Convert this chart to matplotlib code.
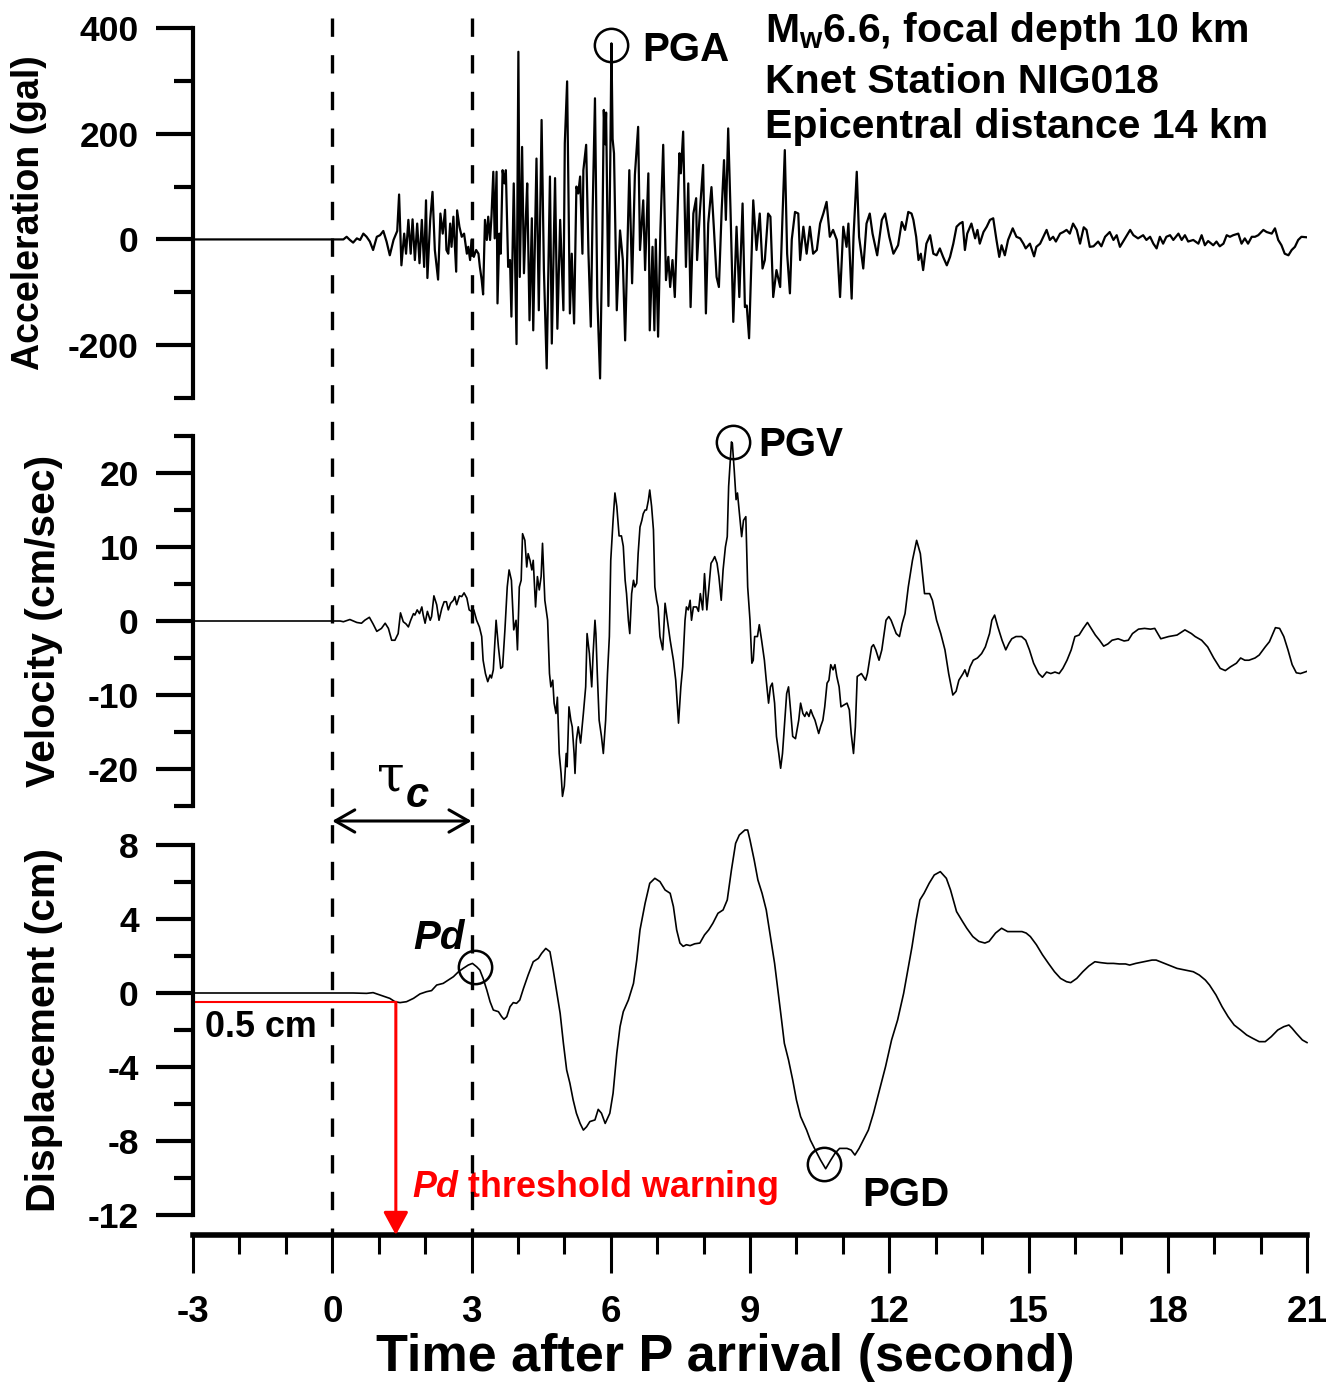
import numpy as np
import matplotlib.pyplot as plt
from matplotlib import transforms
from matplotlib.lines import Line2D
from matplotlib.ticker import MultipleLocator

plt.rcParams['font.family'] = ['Liberation Sans', 'DejaVu Sans']
plt.rcParams['font.weight'] = 'bold'
plt.rcParams['axes.labelweight'] = 'bold'
plt.rcParams['axes.unicode_minus'] = False
plt.rcParams['mathtext.fontset'] = 'custom'
plt.rcParams['mathtext.rm'] = 'Liberation Sans:bold'
plt.rcParams['mathtext.it'] = 'Liberation Sans:bold:italic'
plt.rcParams['mathtext.bf'] = 'Liberation Sans:bold'

# ---------------------------------------------------------------------------
# data (time in s after P arrival)
# ---------------------------------------------------------------------------
acc_time = [-3.0, 0.24, 0.31, 0.38, 0.45, 0.53, 0.60, 0.67, 0.74, 0.81, 0.88, 0.96, 1.03, 1.10, 1.17,
            1.24, 1.32, 1.40, 1.44, 1.49, 1.55, 1.59, 1.64, 1.69, 1.73, 1.78, 1.83, 1.88, 1.93, 1.98,
            2.02, 2.05, 2.11, 2.16, 2.21, 2.28, 2.33, 2.38, 2.43, 2.46, 2.50, 2.54, 2.57, 2.61, 2.67,
            2.69, 2.74, 2.79, 2.84, 2.90, 2.93, 2.97, 3.00, 3.05, 3.10, 3.15, 3.18, 3.22, 3.25, 3.29,
            3.33, 3.36, 3.40, 3.43, 3.47, 3.50, 3.54, 3.56, 3.60, 3.63, 3.67, 3.71, 3.74, 3.79, 3.83,
            3.86, 3.91, 3.97, 4.01, 4.04, 4.09, 4.13, 4.17, 4.20, 4.25, 4.30, 4.33, 4.40, 4.45, 4.51,
            4.56, 4.62, 4.69, 4.73, 4.80, 4.85, 4.91, 4.98, 5.01, 5.06, 5.12, 5.16, 5.21, 5.26, 5.30,
            5.34, 5.39, 5.41, 5.47, 5.52, 5.57, 5.61, 5.66, 5.71, 5.77, 5.82, 5.85, 5.88, 5.90, 5.95,
            5.99, 6.015, 6.04, 6.07, 6.13, 6.20, 6.26, 6.31, 6.40, 6.46, 6.52, 6.59, 6.63, 6.70, 6.74,
            6.81, 6.84, 6.90, 6.94, 6.97, 7.02, 7.07, 7.13, 7.19, 7.24, 7.28, 7.33, 7.38, 7.48, 7.51,
            7.56, 7.62, 7.67, 7.72, 7.78, 7.84, 7.86, 7.92, 7.99, 8.05, 8.10, 8.17, 8.22, 8.28, 8.33,
            8.39, 8.44, 8.48, 8.53, 8.58, 8.64, 8.71, 8.77, 8.84, 8.89, 8.93, 8.98, 9.07, 9.14, 9.21,
            9.27, 9.32, 9.39, 9.44, 9.50, 9.57, 9.65, 9.70, 9.75, 9.80, 9.86, 9.90, 9.97, 10.04, 10.08,
            10.15, 10.22, 10.29, 10.36, 10.44, 10.51, 10.58, 10.65, 10.72, 10.79, 10.87, 10.94, 11.01,
            11.08, 11.12, 11.19, 11.23, 11.30, 11.35, 11.44, 11.51, 11.58, 11.64, 11.74, 11.84, 11.91,
            12.00, 12.09, 12.19, 12.27, 12.34, 12.41, 12.48, 12.52, 12.58, 12.63, 12.68, 12.73, 12.80,
            12.88, 12.95, 13.02, 13.09, 13.16, 13.24, 13.31, 13.38, 13.45, 13.52, 13.58, 13.63, 13.68,
            13.77, 13.85, 13.90, 13.95, 14.03, 14.10, 14.17, 14.24, 14.31, 14.37, 14.42, 14.49, 14.56,
            14.66, 14.74, 14.82, 14.89, 14.94, 15.03, 15.12, 15.17, 15.25, 15.32, 15.39, 15.46, 15.53,
            15.59, 15.68, 15.75, 15.82, 15.89, 15.96, 16.04, 16.11, 16.19, 16.25, 16.32, 16.40, 16.50,
            16.57, 16.65, 16.75, 16.83, 16.90, 16.97, 17.08, 17.19, 17.26, 17.36, 17.47, 17.54, 17.62,
            17.69, 17.76, 17.83, 17.90, 17.97, 18.05, 18.12, 18.23, 18.30, 18.37, 18.44, 18.55, 18.66,
            18.73, 18.80, 18.87, 18.98, 19.05, 19.12, 19.20, 19.27, 19.34, 19.41, 19.52, 19.59, 19.66,
            19.73, 19.81, 19.88, 19.95, 20.06, 20.13, 20.24, 20.31, 20.38, 20.45, 20.52, 20.60, 20.67,
            20.74, 20.81, 20.88, 21.0]
acc_gal = [0, 0, 5, -1, -6, 2, -1, 11, 5, -4, -20, 5, 8, 16, -4,
           -30, -1, 16, 85, -49, 11, -27, 37, -27, 38, -39, 30, -45, 37, -52,
           74, -73, 37, 90, -20, -76, 49, 11, 56, -20, -27, 30, -14, 43, -61,
           55, 24, 5, 11, -27, -14, -39, -1, -33, -20, -27, -52, -77, -104, 37,
           -1, 43, -1, 43, 128, 2, 128, -121, 11, -27, 131, 106, 131, -52, -39,
           -146, 106, -198, 355, -71, 175, -64, 37, 106, -153, 40, -172, 153, -134, 226,
           -58, -244, 119, -197, 116, -169, 37, -134, 182, 299, -140, -27, -159, 100, 87,
           119, -27, 131, 179, -27, -165, 56, 267, -109, -263, 11, 245, 180, 240, -126,
           150, 371, 190, 163, -134, 17, -39, -191, 131, -83, 122, 213, -20, 74, -58,
           125, -172, -14, -172, 0, -184, 18, 179, -77, -33, -90, -39, -109, 163, 125,
           204, -52, 106, -128, 49, 78, -39, 52, 141, -140, 30, 99, 24, -71, -90,
           56, 150, 37, 210, 56, -156, 24, -109, 68, -128, -125, -187, 74, -20, 49,
           -55, -39, 49, 43, -109, -58, -90, 43, 169, -27, -102, 0, 52, 49, -39,
           24, -27, 24, -27, -20, 30, 49, 71, 5, 18, -1, -109, 24,
           -14, 30, -112, 5, 128, 5, -55, 30, 49, 11, -30, 37, 49,
           5, -27, -11, 33, 18, 52, 49, 37, 5, -39, -27, -58, -8,
           8, -27, -30, -17, -33, -49, -33, -8, 24, 30, 33, -20, 11,
           30, 2, 18, -8, 14, 24, 37, 40, -1, -33, -11, -30, -1,
           21, 5, 2, -8, -17, -8, -32, -14, -8, 5, 18, -1, 5,
           -4, 11, 14, 18, 11, 30, 18, -8, 23, 18, -14, -13, -4,
           -13, 5, 14, -1, 8, -14, 2, 18, 8, 2, 8, -1, 5,
           -8, -17, 5, -8, 5, 8, -1, 11, -1, 8, -4, -1, -8,
           8, -11, -3, -11, -4, -13, -8, 8, 5, 8, 11, -8, 2,
           -8, 5, 5, 8, 18, 14, 11, 21, -1, -11, -27, -30, -20,
           -14, -1, 5, 4]

vel_time = [-3.0, 0.17, 0.24, 0.38, 0.53, 0.63, 0.70, 0.80, 0.88, 0.96, 1.06, 1.14, 1.21, 1.28, 1.35,
            1.42, 1.47, 1.53, 1.59, 1.64, 1.69, 1.75, 1.78, 1.83, 1.88, 1.93, 1.96, 2.00, 2.05, 2.11,
            2.14, 2.19, 2.25, 2.30, 2.36, 2.41, 2.46, 2.50, 2.55, 2.61, 2.64, 2.68, 2.74, 2.79, 2.84,
            2.90, 2.95, 3.00, 3.05, 3.11, 3.17, 3.22, 3.25, 3.30, 3.35, 3.40, 3.43, 3.47, 3.53, 3.58,
            3.63, 3.67, 3.72, 3.77, 3.81, 3.86, 3.91, 3.96, 3.99, 4.03, 4.07, 4.10, 4.15, 4.19, 4.22,
            4.26, 4.30, 4.33, 4.38, 4.42, 4.46, 4.50, 4.53, 4.58, 4.64, 4.68, 4.71, 4.75, 4.78, 4.82,
            4.85, 4.89, 4.93, 4.96, 5.00, 5.04, 5.06, 5.10, 5.14, 5.17, 5.21, 5.23, 5.26, 5.30, 5.35,
            5.41, 5.46, 5.49, 5.54, 5.59, 5.62, 5.66, 5.68, 5.71, 5.75, 5.80, 5.84, 5.89, 5.93, 5.97,
            6.00, 6.05, 6.09, 6.13, 6.18, 6.23, 6.27, 6.31, 6.34, 6.38, 6.41, 6.45, 6.49, 6.52, 6.56,
            6.59, 6.63, 6.67, 6.70, 6.74, 6.77, 6.81, 6.84, 6.88, 6.92, 6.95, 6.99, 7.02, 7.06, 7.12,
            7.17, 7.22, 7.28, 7.35, 7.40, 7.46, 7.51, 7.55, 7.60, 7.63, 7.67, 7.71, 7.74, 7.78, 7.85,
            7.89, 7.93, 7.98, 8.02, 8.07, 8.11, 8.16, 8.20, 8.24, 8.29, 8.33, 8.38, 8.42, 8.47, 8.51,
            8.54, 8.60, 8.62, 8.66, 8.70, 8.73, 8.78, 8.82, 8.86, 8.91, 8.95, 9.00, 9.04, 9.07, 9.10,
            9.16, 9.20, 9.25, 9.31, 9.35, 9.40, 9.44, 9.48, 9.53, 9.57, 9.62, 9.66, 9.70, 9.75, 9.79,
            9.83, 9.88, 9.92, 9.98, 10.05, 10.09, 10.14, 10.18, 10.22, 10.27, 10.31, 10.35, 10.40, 10.44,
            10.48, 10.52, 10.57, 10.61, 10.66, 10.70, 10.74, 10.79, 10.83, 10.87, 10.92, 10.96, 11.01,
            11.09, 11.14, 11.18, 11.23, 11.27, 11.31, 11.40, 11.49, 11.53, 11.62, 11.66, 11.71, 11.78,
            11.84, 11.93, 11.99, 12.04, 12.15, 12.22, 12.28, 12.34, 12.41, 12.50, 12.59, 12.67, 12.76,
            12.87, 12.93, 13.02, 13.11, 13.20, 13.28, 13.37, 13.44, 13.50, 13.59, 13.63, 13.68, 13.74,
            13.81, 13.90, 13.99, 14.07, 14.16, 14.21, 14.27, 14.34, 14.43, 14.51, 14.58, 14.64, 14.73,
            14.85, 14.94, 15.02, 15.11, 15.22, 15.30, 15.39, 15.48, 15.57, 15.66, 15.74, 15.83, 15.92,
            16.00, 16.09, 16.18, 16.27, 16.35, 16.44, 16.53, 16.62, 16.71, 16.80, 16.93, 17.06, 17.15,
            17.24, 17.37, 17.50, 17.63, 17.72, 17.85, 18.02, 18.20, 18.37, 18.51, 18.59, 18.73, 18.86,
            18.99, 19.13, 19.24, 19.35, 19.48, 19.57, 19.66, 19.75, 19.88, 19.97, 20.10, 20.19, 20.32,
            20.41, 20.50, 20.59, 20.68, 20.77, 20.86, 20.95, 21.0]
vel_cms = [0, 0, -0.1, 0.2, -0.2, -0.3, 0.1, 0.5, -0.4, -1.4, -1.0, -0.3, -1.0, -2.6, -2.6,
           -1.7, 1.1, -0.1, -0.4, -0.8, 0.1, 1.0, 0.8, 1.5, 1.0, 1.9, 0.8, -0.3, 1.3, 0.1,
           0.6, 3.4, 2.2, 0.1, 1.7, 2.6, 2.6, 1.5, 2.4, 2.8, 3.3, 2.2, 3.4, 3.3, 3.8,
           3.1, 1.5, 1.3, 1.5, 0.1, -0.8, -2.1, -5.3, -7.1, -8.2, -7.3, -7.7, -6.6, 0.1, -3.5,
           -6.4, -6.2, -1.2, 4.6, 6.9, 5.5, -1.2, 0.1, -3.9, 4.6, 5.5, 11.8, 10.9, 7.3, 9.1,
           8.2, 6.9, 8.2, 1.9, 6.0, 4.2, 6.0, 10.5, 2.8, 0.1, -7.1, -8.9, -8.0, -11.1, -12.5,
           -10.3, -17.9, -20.6, -23.7, -22.3, -17.9, -19.7, -11.6, -13.4, -14.3, -17.9, -20.6, -16.1, -14.3, -16.5,
           -12.5, -8.9, -1.7, -4.4, -8.9, -4.4, 0.1, -1.7, -7.1, -13.4, -15.6, -17.9, -13.4, -7.1, -2.1,
           8.2, 13.6, 17.3, 15.5, 11.5, 11.5, 10.1, 5.5, 3.7, 0.1, -1.7, 3.7, 5.5, 4.6, 5.1,
           9.1, 12.7, 13.6, 14.5, 15.0, 15.0, 16.3, 17.7, 15.5, 12.3, 4.6, 2.8, 1.9, -2.1, -3.9,
           2.4, 0.1, -2.6, -5.3, -8.0, -13.8, -8.9, -6.2, 0.1, 1.9, 1.5, 2.8, 0.1, 1.9, 1.9,
           1.3, 3.7, 1.5, 6.4, 1.5, 4.2, 7.8, 8.2, 8.7, 7.8, 6.0, 2.8, 6.9, 10.0, 11.4,
           18.2, 24.2, 24.0, 20.4, 16.4, 17.3, 14.1, 11.4, 13.6, 14.1, 4.6, 0.1, -5.7, -5.3, -2.1,
           -2.1, -0.5, -2.6, -5.3, -8.0, -11.1, -8.9, -8.4, -11.1, -15.6, -17.9, -19.9, -17.9, -13.4, -9.8,
           -8.9, -12.5, -15.6, -15.9, -13.4, -11.1, -12.5, -12.9, -12.3, -12.9, -12.0, -12.7, -13.4, -14.3,
           -15.2, -14.3, -13.4, -11.6, -8.4, -8.0, -5.9, -6.6, -5.9, -7.5, -8.9, -11.6, -11.4,
           -11.1, -12.0, -15.2, -17.9, -14.3, -7.5, -7.1, -8.0, -7.1, -3.5, -3.2, -3.9, -5.3,
           -3.9, 0.1, 0.6, 0.1, -1.7, -2.1, -0.3, 1.0, 4.6, 8.2, 10.9, 9.1, 3.7,
           3.7, 2.8, 0.1, -1.7, -3.9, -7.1, -10.0, -9.5, -8.0, -7.1, -6.6, -7.5, -6.2,
           -5.3, -5.0, -4.4, -3.5, -1.7, 0.1, 0.8, -0.8, -2.6, -3.9, -3.0, -2.4, -2.1,
           -2.1, -2.6, -3.9, -5.7, -7.1, -7.6, -6.9, -7.1, -6.9, -7.1, -6.4, -5.3, -3.9,
           -2.1, -1.9, -1.0, -0.2, -1.0, -1.9, -2.6, -3.4, -3.1, -2.6, -2.4, -2.7, -2.6,
           -1.7, -1.1, -1.0, -1.1, -1.0, -2.4, -2.1, -1.9, -1.2, -1.7, -2.1, -2.6, -3.5,
           -5.0, -6.4, -6.7, -6.2, -5.7, -5.0, -5.3, -5.3, -5.0, -4.6, -3.5, -2.8, -0.9,
           -1.0, -2.1, -3.9, -5.9, -7.0, -7.1, -6.9, -6.8]

dis_time = [-3.0, 0.45, 0.74, 0.88, 1.03, 1.24, 1.35, 1.46, 1.60, 1.75, 1.89, 2.03, 2.14, 2.25, 2.39,
            2.50, 2.61, 2.72, 2.82, 2.93, 3.02, 3.11, 3.18, 3.25, 3.33, 3.40, 3.47, 3.58, 3.65, 3.70,
            3.76, 3.83, 3.90, 3.97, 4.04, 4.12, 4.22, 4.33, 4.44, 4.51, 4.60, 4.69, 4.76, 4.83, 4.91,
            4.98, 5.05, 5.12, 5.19, 5.26, 5.34, 5.41, 5.48, 5.55, 5.66, 5.73, 5.80, 5.88, 5.98, 6.05,
            6.13, 6.20, 6.27, 6.38, 6.49, 6.56, 6.63, 6.74, 6.84, 6.95, 7.06, 7.17, 7.28, 7.35, 7.42,
            7.49, 7.56, 7.63, 7.71, 7.81, 7.92, 8.02, 8.11, 8.20, 8.31, 8.42, 8.51, 8.60, 8.69, 8.77,
            8.89, 8.95, 9.00, 9.09, 9.17, 9.26, 9.35, 9.44, 9.53, 9.61, 9.68, 9.74, 9.83, 9.92, 10.00,
            10.09, 10.22, 10.30, 10.39, 10.52, 10.63, 10.74, 10.83, 10.93, 11.00, 11.09, 11.18, 11.26,
            11.35, 11.44, 11.55, 11.66, 11.79, 11.92, 12.05, 12.18, 12.31, 12.40, 12.49, 12.58, 12.66,
            12.75, 12.86, 12.97, 13.10, 13.23, 13.32, 13.45, 13.58, 13.67, 13.80, 13.93, 14.06, 14.15,
            14.29, 14.42, 14.55, 14.68, 14.86, 14.95, 15.04, 15.17, 15.30, 15.43, 15.56, 15.69, 15.82,
            15.91, 16.04, 16.17, 16.30, 16.43, 16.56, 16.70, 16.83, 16.96, 17.09, 17.18, 17.31, 17.49,
            17.66, 17.75, 17.84, 18.02, 18.20, 18.37, 18.55, 18.68, 18.81, 18.90, 19.04, 19.17, 19.30,
            19.43, 19.57, 19.70, 19.83, 19.97, 20.10, 20.23, 20.37, 20.50, 20.61, 20.68, 20.77, 20.90, 21.0]
dis_cm = [0, 0, -0.02, 0.02, -0.11, -0.29, -0.47, -0.52, -0.47, -0.29, -0.05, 0.07, 0.13, 0.43, 0.52,
          0.70, 0.88, 1.15, 1.33, 1.51, 1.60, 1.42, 1.24, 0.79, 0.16, -0.47, -0.92, -1.01, -1.28, -1.42,
          -1.28, -0.74, -0.52, -0.56, -0.38, 0.25, 0.97, 1.69, 1.87, 2.14, 2.41, 2.23, 1.24, 0.16, -1.10,
          -2.72, -4.16, -4.88, -5.78, -6.50, -7.05, -7.41, -7.23, -6.95, -6.86, -6.29, -6.50, -7.05, -6.50, -5.42,
          -3.26, -1.82, -1.01, -0.38, 0.52, 1.78, 3.41, 4.85, 5.93, 6.20, 6.02, 5.57, 5.39, 4.67, 3.41,
          2.70, 2.52, 2.61, 2.56, 2.66, 2.70, 3.14, 3.41, 3.77, 4.31, 4.49, 5.03, 6.65, 8.09, 8.54,
          8.81, 8.81, 8.27, 7.19, 6.11, 5.39, 4.49, 3.05, 1.60, -0.02, -1.46, -2.72, -3.62, -4.70, -5.78,
          -6.68, -7.41, -7.95, -8.40, -9.03, -9.50, -9.03, -8.67, -8.40, -8.40, -8.40, -8.49, -8.76,
          -8.40, -7.95, -7.41, -6.50, -5.24, -3.98, -2.54, -1.46, -0.02, 1.24, 2.50, 3.95, 5.03,
          5.39, 5.93, 6.38, 6.56, 6.20, 5.57, 4.40, 3.86, 3.50, 3.05, 2.79, 2.70, 2.79,
          3.24, 3.50, 3.32, 3.32, 3.32, 3.24, 3.05, 2.61, 2.07, 1.60, 1.15, 0.79, 0.61,
          0.56, 0.79, 1.15, 1.46, 1.69, 1.64, 1.60, 1.60, 1.57, 1.57, 1.51, 1.60, 1.69,
          1.78, 1.78, 1.69, 1.51, 1.33, 1.24, 1.15, 0.97, 0.70, 0.43, -0.11, -0.74, -1.28,
          -1.73, -2.00, -2.27, -2.45, -2.63, -2.63, -2.36, -2.00, -1.82, -1.73, -1.91, -2.18, -2.54, -2.68]

# picked points
pga_time, pga_gal = 6.00, 368
pgv_time, pgv_cms = 8.63, 24.2
pd_time, pd_cm = 3.07, 1.4
pgd_time, pgd_cm = 10.59, -9.24
tau_c = 3.0
pd_threshold = -0.5
warn_time = 1.37

info_lines = ['M$_{\\mathrm{w}}$6.6, focal depth 10 km',
              'Knet Station NIG018',
              'Epicentral distance 14 km']

# ---------------------------------------------------------------------------
# figure
# ---------------------------------------------------------------------------
W, H = 1337, 1384
fig = plt.figure(figsize=(W / 100, H / 100), dpi=100)


def box(top, bottom):
    return [193 / W, 1 - bottom / H, (1307 - 193) / W, (bottom - top) / H]


ax1 = fig.add_axes(box(28, 398))
ax2 = fig.add_axes(box(436, 806), sharex=ax1)
ax3 = fig.add_axes(box(845, 1215), sharex=ax1)

for ax in (ax1, ax2, ax3):
    for s in ('top', 'right', 'bottom'):
        ax.spines[s].set_visible(False)
    ax.spines['left'].set_linewidth(3)
    ax.patch.set_visible(False)
    ax.tick_params(axis='y', which='major', direction='out', length=27, width=3,
                   pad=12, labelsize=25.5)
    ax.tick_params(axis='y', which='minor', direction='out', length=14, width=3)
    ax.tick_params(axis='x', which='both', bottom=False, labelbottom=False)

# traces
ax1.plot(acc_time, acc_gal, color='k', lw=1.6)
ax2.plot(vel_time, vel_cms, color='k', lw=1.2)
ax3.plot(dis_time, dis_cm, color='k', lw=1.2, clip_on=False)

# y scales
ax1.set_ylim(-300, 400)
ax1.set_yticks([-200, 0, 200, 400])
ax1.yaxis.set_minor_locator(MultipleLocator(100))
ax2.set_ylim(-25, 25)
ax2.set_yticks([-20, -10, 0, 10, 20])
ax2.yaxis.set_minor_locator(MultipleLocator(5))
ax3.set_ylim(-12, 8)
ax3.set_yticks([-12, -8, -4, 0, 4, 8])
ax3.yaxis.set_minor_locator(MultipleLocator(2))

ax1.set_ylabel('Acceleration (gal)', fontsize=27, va='center')
ax1.yaxis.set_label_coords(-0.147, 0.5)
ax2.set_ylabel('Velocity (cm/sec)', fontsize=29.5, va='center')
ax2.yaxis.set_label_coords(-0.134, 0.5)
ax3.set_ylabel('Displacement (cm)', fontsize=29.5, va='center')
ax3.yaxis.set_label_coords(-0.134, 0.5)

# x axis (only under the bottom panel, pushed down)
ax3.set_xlim(-3, 21)
ax3.xaxis.set_major_locator(MultipleLocator(3))
ax3.xaxis.set_minor_locator(MultipleLocator(1))
ax3.spines['bottom'].set_visible(True)
ax3.spines['bottom'].set_linewidth(4)
ax3.spines['bottom'].set_position(('outward', 14.4))
ax3.tick_params(axis='x', which='both', bottom=True, labelbottom=True, direction='out')
ax3.tick_params(axis='x', which='major', length=27, width=2.2, pad=16, labelsize=26.5)
ax3.tick_params(axis='x', which='minor', length=14, width=2.2)
ax3.set_xlabel('Time after P arrival (second)', fontsize=37.5, va='center')
ax3.xaxis.set_label_coords(0.478, -0.384)

# dashed markers of P arrival and tau_c window
trans = transforms.blended_transform_factory(ax3.transData, fig.transFigure)
for x0 in (0, tau_c):
    fig.add_artist(Line2D([x0, x0], [1 - 18 / H, 1 - 1235 / H], transform=trans,
                          color='k', lw=2.4, dashes=(5.5, 5.5)))

ax3.annotate('', xy=(tau_c, 1 - 821 / H), xytext=(0, 1 - 821 / H),
             xycoords=trans, textcoords=trans,
             arrowprops=dict(arrowstyle='<->,head_length=0.7,head_width=0.4',
                             lw=2.2, color='k', shrinkA=0, shrinkB=0,
                             mutation_scale=20))
ax3.text(1.27, 1 - 776 / H, '\u03c4', transform=trans, family='DejaVu Serif',
         fontweight='normal', fontsize=36, ha='center', va='center')
ax3.text(1.84, 1 - 796 / H, 'c', transform=trans, fontstyle='italic',
         fontsize=30, ha='center', va='center')

# picked peaks
circ = dict(marker='o', ms=24, mfc='none', mec='k', mew=1.8, ls='none', clip_on=False)
ax1.plot([pga_time], [pga_gal], **circ)
ax2.plot([pgv_time], [pgv_cms], **circ)
ax3.plot([pd_time], [pd_cm], **circ)
ax3.plot([pgd_time], [pgd_cm], **circ)

ax1.text(6.67, 358, 'PGA', fontsize=29, va='center', ha='left')
ax2.text(9.17, 23.8, 'PGV', fontsize=29, va='center', ha='left')
ax3.text(11.41, -10.92, 'PGD', fontsize=29, va='center', ha='left')
ax3.text(1.74, 2.97, 'Pd', fontsize=29, fontstyle='italic', va='center', ha='left')
ax3.text(-2.74, -1.84, '0.5 cm', fontsize=25.8, va='center', ha='left')

# Pd threshold
ax3.plot([-3, warn_time], [pd_threshold, pd_threshold], color='red', lw=1.5)
ax3.annotate('', xy=(warn_time, -13.08), xytext=(warn_time, pd_threshold),
             arrowprops=dict(arrowstyle='-|>,head_length=0.7,head_width=0.38',
                             color='red', lw=2.2, shrinkA=0, shrinkB=0,
                             mutation_scale=20),
             annotation_clip=False)
ax3.text(1.72, -10.54, '$\\mathit{Pd}$ threshold warning', color='red', fontsize=25.8,
         va='center', ha='left')

# event info
for line, y in zip(info_lines, (31, 82, 127)):
    fig.text(765 / W, 1 - y / H, line, fontsize=29.5, va='center', ha='left')

fig.savefig('out.png', dpi=100)
